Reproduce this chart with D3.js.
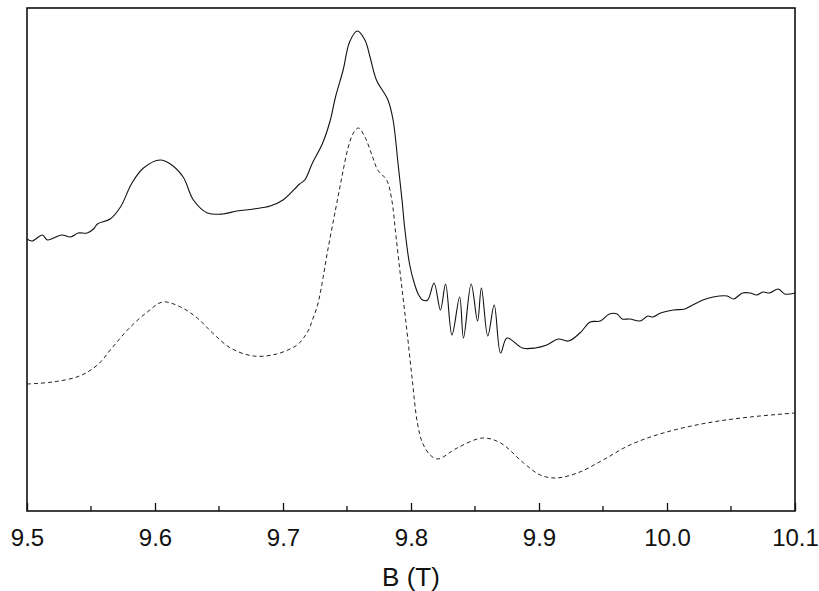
<!DOCTYPE html>
<html>
<head>
<meta charset="utf-8">
<script src="https://cdn.jsdelivr.net/npm/d3@7"></script>
<style>
  html, body { margin: 0; padding: 0; background: #fff; }
  svg { display: block; font-family: Arial, "Liberation Sans", sans-serif; }
</style>
</head>
<body>
<div id="chart"></div>
<script>
// measured spectrum (solid) - field in T, intensity in arb. units
const measuredB = [9.500, 9.504, 9.512, 9.516, 9.527, 9.534, 9.540, 9.547, 9.552, 9.555,
  9.565, 9.573, 9.582, 9.591, 9.604, 9.612, 9.622, 9.630, 9.641, 9.653,
  9.664, 9.677, 9.690, 9.700, 9.713, 9.717, 9.723, 9.731, 9.737, 9.741,
  9.747, 9.752, 9.758, 9.764, 9.768, 9.773, 9.782, 9.786, 9.790, 9.793,
  9.795, 9.799, 9.803, 9.806, 9.809, 9.813, 9.818, 9.823, 9.827, 9.832,
  9.838, 9.841, 9.847, 9.852, 9.855, 9.860, 9.865, 9.870, 9.875, 9.887,
  9.897, 9.906, 9.915, 9.923, 9.932, 9.940, 9.948, 9.955, 9.961, 9.965,
  9.971, 9.979, 9.985, 9.989, 9.995, 10.005, 10.014, 10.020, 10.028, 10.036,
  10.047, 10.052, 10.059, 10.065, 10.070, 10.075, 10.080, 10.087, 10.092, 10.100];
const measuredI = [272, 270, 276, 271, 276, 274, 278, 278, 282, 287,
  292, 304, 328, 343, 351, 347, 334, 311, 298, 297,
  300, 302, 305, 311, 327, 331, 348, 368, 391, 414,
  441, 469, 480, 471, 454, 431, 411, 391, 346, 311,
  284, 246, 226, 216, 211, 211, 228, 201, 227, 176,
  214, 173, 227, 190, 223, 175, 206, 158, 173, 163,
  163, 166, 172, 170, 178, 189, 190, 197, 197, 192,
  192, 190, 195, 194, 198, 201, 202, 206, 211, 214,
  215, 212, 218, 218, 216, 219, 218, 222, 217, 218];

// simulated spectrum (dashed)
const simulatedB = [9.500, 9.520, 9.541, 9.555, 9.567, 9.580, 9.594, 9.606, 9.620, 9.633,
  9.645, 9.659, 9.677, 9.695, 9.711, 9.716, 9.720, 9.723, 9.727, 9.730,
  9.735, 9.741, 9.746, 9.751, 9.755, 9.759, 9.764, 9.770, 9.774, 9.781,
  9.785, 9.788, 9.791, 9.794, 9.797, 9.801, 9.805, 9.809, 9.815, 9.821,
  9.836, 9.856, 9.870, 9.888, 9.901, 9.913, 9.930, 9.950, 9.971, 9.997,
  10.031, 10.065, 10.100];
const simulatedI = [127, 129, 135, 146, 164, 183, 199, 209, 204, 193,
  178, 163, 155, 157, 166, 173, 181, 191, 206, 224,
  261, 301, 334, 364, 378, 383, 374, 354, 341, 331,
  311, 278, 244, 211, 178, 131, 88, 68, 56, 52,
  63, 73, 68, 48, 36, 33, 38, 51, 66, 78,
  88, 94, 98];

const xTicks = [9.5, 9.6, 9.7, 9.8, 9.9, 10.0, 10.1];
const xMinorTicks = [9.55, 9.65, 9.75, 9.85, 9.95, 10.05];

const width = 819, height = 591;
const margin = { top: 8, right: 24, bottom: 80, left: 27 };
const plotW = width - margin.left - margin.right;
const plotH = height - margin.top - margin.bottom;

const svg = d3.select("#chart").append("svg")
  .attr("width", width)
  .attr("height", height);

const g = svg.append("g")
  .attr("transform", `translate(${margin.left},${margin.top})`);

const x = d3.scaleLinear().domain([9.5, 10.1]).range([0, plotW]);
const y = d3.scaleLinear().domain([0, 503]).range([plotH, 0]);

const line = d3.line()
  .x(d => x(d[0]))
  .y(d => y(d[1]))
  .curve(d3.curveCatmullRom.alpha(0.5));

g.append("path")
  .datum(simulatedB.map((b, i) => [b, simulatedI[i]]))
  .attr("d", line)
  .attr("fill", "none")
  .attr("stroke", "#222")
  .attr("stroke-width", 1)
  .attr("stroke-dasharray", "4,3");

g.append("path")
  .datum(measuredB.map((b, i) => [b, measuredI[i]]))
  .attr("d", line)
  .attr("fill", "none")
  .attr("stroke", "#111")
  .attr("stroke-width", 1.1);

// bottom axis, ticks pointing inward
const xAxis = g.append("g")
  .attr("transform", `translate(0,${plotH})`)
  .call(d3.axisBottom(x).tickValues(xTicks).tickSize(-8).tickPadding(18)
    .tickFormat(d3.format(".1f")));
xAxis.select(".domain").remove();
xAxis.selectAll("line").attr("stroke", "#111").attr("stroke-width", 1.3);
xAxis.selectAll("text")
  .attr("fill", "#111")
  .style("font-size", "24px");

g.append("g")
  .attr("transform", `translate(0,${plotH})`)
  .selectAll("line")
  .data(xMinorTicks)
  .join("line")
  .attr("x1", d => x(d)).attr("x2", d => x(d))
  .attr("y1", 0).attr("y2", -5)
  .attr("stroke", "#111").attr("stroke-width", 1.3);

// frame
g.append("rect")
  .attr("width", plotW)
  .attr("height", plotH)
  .attr("fill", "none")
  .attr("stroke", "#111")
  .attr("stroke-width", 1.6);

svg.append("text")
  .attr("x", margin.left + plotW / 2)
  .attr("y", 586)
  .attr("text-anchor", "middle")
  .attr("fill", "#111")
  .style("font-size", "26px")
  .text("B (T)");
</script>
</body>
</html>
